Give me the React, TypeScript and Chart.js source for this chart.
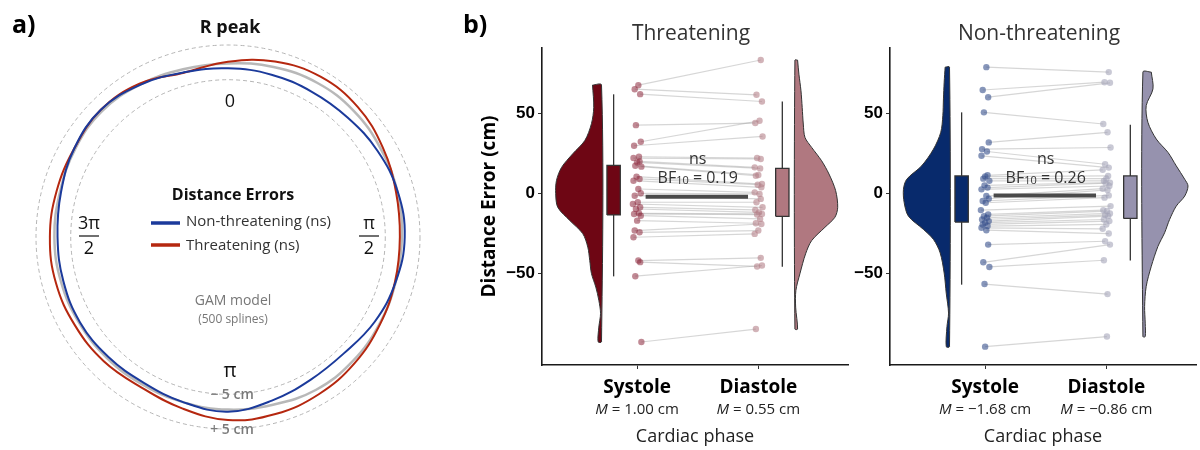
import React, { useEffect, useRef } from "react";
import { Chart, registerables } from "chart.js";

Chart.register(...registerables);

const FONT = "'Open Sans', 'Noto Sans', sans-serif";

// ---------------- Panel a: circular GAM fits (deviation in cm by cardiac phase angle) ----------------
const phaseAngles = [0, 15, 30, 45, 60, 75, 90, 105, 120, 135, 150, 165, 180, 195, 210, 225, 240, 255, 270, 285, 300, 315, 330, 345];
const nonThreatDev = [-1.7, -1.9, -2.0, -1.6, -0.6, 0.3, 0.6, -0.3, -1.5, -3.0, -2.8, -1.5, 0.0, -1.0, -1.8, -1.5, -1.1, -1.2, -1.2, -0.5, 0.8, 1.5, 0.3, -1.2];
const threatDev = [0.2, 2.0, 3.0, 2.6, 1.2, -0.2, -0.8, -0.5, 0.2, 1.2, 2.0, 2.5, 2.4, 0.8, -0.3, 0.3, 0.6, 1.0, 1.0, 0.8, 0.8, 1.5, 0.7, -1.3];
const gamDev = [-0.3, 0.4, 1.0, 1.0, 0.5, 0.2, -0.2, -0.3, 0.0, 0.4, 0.5, -0.3, -0.6, -1.0, -1.2, -1.0, -0.8, -0.5, -0.3, -0.2, 0.5, 1.0, 0.4, -0.3];
const ringTicks = [-5, 5];

// ---------------- Panel b: raincloud plots ----------------
const phases = ["Systole", "Diastole"];
const phaseTicks = [1, 2];
const yTicks = [-50, 0, 50];

const threatSys = [67.7, 65.2, 62.1, 42.7, 32.3, 29.8, 22.9, 22.1, 20, 19.4, 17.3, 16.7, 10.4, 9, 7.9, 2.7, 0, -1.5, -5.6, -6.7, -8.75, -9.8, -12.5, -12.9, -14, -17.1, -23.3, -24.4, -27.5, -42.1, -43.1, -51.9, -93.1];
const threatDia = [83.5, 61.7, 57.5, 44, 45.4, 35.6, 22.1, 21.5, 16.25, 15.6, 11.5, 11, 5.8, 5.4, 3.75, 0.6, -0.4, -3.5, -5.6, -8.75, -10.4, -11.9, -12.9, -13.3, -16, -18.75, -19.2, -23.3, -25.4, -40.4, -45.8, -45.2, -85];
const ntSys = [79, 64.7, 60.2, 50.7, 31.9, 27.7, 26.2, 23.5, 11.3, 10.5, 9.2, 7.8, 5, 3.6, 2.5, -1.7, -3.4, -4.8, -5.9, -10.5, -13.2, -14.3, -15.3, -16.4, -17.4, -18.4, -19.5, -20.5, -21.6, -23.1, -32.1, -43.2, -46.1, -56.8, -96];
const ntDia = [75.9, 69.6, 69.2, 43.4, 38.2, 28.7, 18.2, 16.1, 14.7, 10.9, 9.2, 7.8, 6.7, 6.3, 4.6, 2.9, 2.1, -1.3, -2.7, -8, -10.5, -11.1, -12.6, -13.6, -14.3, -16.4, -17.4, -19.5, -22.2, -25.2, -30, -32.1, -41.9, -63.1, -89.7];

const jitterSys = [0.01, -0.02, 0.025, -0.01, 0.03, -0.025, 0.015, -0.03, 0.02, 0.0, -0.015, 0.035, -0.005, 0.02, -0.03, 0.01, 0.03, -0.02, 0.005, -0.035, 0.025, -0.01, 0.015, -0.025, 0.03, 0.0, -0.02, 0.02, -0.03, 0.01, 0.025, -0.015, 0.035, -0.005, 0.0];
const jitterDia = [0.02, -0.015, 0.03, -0.025, 0.01, 0.035, -0.01, 0.02, -0.03, 0.015, 0.0, -0.02, 0.03, -0.005, 0.025, -0.03, 0.01, 0.02, -0.015, 0.035, -0.025, 0.005, 0.03, -0.01, 0.015, -0.02, 0.025, 0.0, -0.03, 0.02, -0.01, 0.03, -0.02, 0.01, 0.005];

// violin outlines: y levels and half-widths (x units)
const threatSysVY = [67.8, 53.8, 43.6, 33, 24.8, 16.2, 7.9, -0.2, -8.75, -17, -25.2, -33.7, -42, -50.2, -58.7, -67, -75.2, -83.75, -93];
const threatSysVW = [0.074, 0.064, 0.083, 0.138, 0.237, 0.33, 0.372, 0.378, 0.361, 0.262, 0.155, 0.113, 0.097, 0.083, 0.047, 0.022, 0.008, 0.022, 0.028];
const threatDiaVY = [83.4, 74.6, 64.2, 53.75, 43.4, 35, 28.75, 20.4, 12.1, 1.7, -8.75, -15, -21.25, -29.6, -37.9, -50.4, -60.8, -71.25, -85];
const threatDiaVW = [0.022, 0.033, 0.05, 0.06, 0.069, 0.083, 0.138, 0.22, 0.281, 0.336, 0.353, 0.33, 0.248, 0.138, 0.088, 0.041, 0.008, 0.006, 0.022];
const ntSysVY = [79, 69.6, 59.1, 48.6, 38.2, 27.7, 17.2, 8.8, 2.5, -5.8, -14.3, -22.6, -28.9, -37.3, -49.9, -62.5, -75, -83.5, -96];
const ntSysVW = [0.036, 0.044, 0.05, 0.055, 0.072, 0.132, 0.23, 0.353, 0.38, 0.374, 0.339, 0.215, 0.132, 0.077, 0.044, 0.027, 0.008, 0.021, 0.027];
const ntDiaVY = [75.9, 65.4, 54.9, 44.5, 34, 25.6, 17.2, 8.8, 4.6, -1.7, -8, -16.4, -24.7, -33.2, -45.7, -58.3, -70.9, -81.3, -89.7];
const ntDiaVW = [0.069, 0.083, 0.027, 0.041, 0.11, 0.207, 0.275, 0.345, 0.372, 0.345, 0.275, 0.22, 0.179, 0.124, 0.069, 0.027, 0.014, 0.019, 0.019];

// box stats: [lower whisker, Q1, median, Q3, upper whisker]
const threatSysBox = [-52, -13.5, 2.3, 17.5, 62];
const threatDiaBox = [-46, -14.4, -1, 15.6, 57.5];
const ntSysBox = [-57.2, -18, -2.7, 10.9, 50.7];
const ntDiaBox = [-42.1, -15.7, 0, 10.9, 43];

const threatMeanLine = [-2.1, -2.1];
const ntMeanLine = [-1.3, -1.3];
const threatMeans = ["1.00", "0.55"];
const ntMeans = ["\u22121.68", "\u22120.86"];
const threatBF = "0.19";
const ntBF = "0.26";

// ---------------- helpers ----------------
function txt(ctx: CanvasRenderingContext2D, s: string, x: number, y: number, font: string, color = "#111", align: CanvasTextAlign = "center") {
  ctx.font = font;
  ctx.fillStyle = color;
  ctx.textAlign = align;
  ctx.textBaseline = "middle";
  ctx.fillText(s, x, y);
}

function fraction(ctx: CanvasRenderingContext2D, top: string, x: number, y: number) {
  txt(ctx, top, x, y - 12, `18px ${FONT}`, "#111");
  ctx.strokeStyle = "#111";
  ctx.lineWidth = 1.2;
  ctx.beginPath();
  ctx.moveTo(x - 10, y);
  ctx.lineTo(x + 10, y);
  ctx.stroke();
  txt(ctx, "2", x, y + 13, `18px ${FONT}`, "#111");
}

function violin(edge: number, dir: number, ys: number[], ws: number[], fill: string) {
  const pts = ys.map((y, i) => ({ x: edge + dir * ws[i], y }));
  const last = ys.length - 1;
  return {
    data: [...pts, { x: edge, y: ys[last] }, { x: edge, y: ys[0] }, pts[0]],
    showLine: true,
    fill: "shape",
    backgroundColor: fill,
    borderColor: "#333",
    borderWidth: 1,
    pointRadius: 0,
    tension: 0.3,
    order: 5,
  };
}

function box(center: number, half: number, stats: number[], fill: string) {
  const [lo, q1, med, q3, hi] = stats;
  const common = { showLine: true, pointRadius: 0, tension: 0, borderColor: "#333", order: 4 };
  return [
    {
      ...common,
      data: [
        { x: center - half, y: q1 },
        { x: center + half, y: q1 },
        { x: center + half, y: q3 },
        { x: center - half, y: q3 },
        { x: center - half, y: q1 },
      ],
      fill: "shape",
      backgroundColor: fill,
      borderWidth: 1.3,
    },
    { ...common, data: [{ x: center - half, y: med }, { x: center + half, y: med }], borderWidth: 2.2, borderColor: "#3a3a3a", fill: false },
    { ...common, data: [{ x: center, y: q3 }, { x: center, y: hi }], borderWidth: 1.3, fill: false },
    { ...common, data: [{ x: center, y: lo }, { x: center, y: q1 }], borderWidth: 1.3, fill: false },
  ];
}

// ---------------- Panel a component ----------------
function CirclePanel() {
  const ref = useRef<HTMLCanvasElement>(null);
  useEffect(() => {
    const annot = {
      id: "circleText",
      afterDraw(chart: any) {
        const ctx = chart.ctx as CanvasRenderingContext2D;
        const s = chart.scales.r;
        const cx = s.xCenter;
        const cy = s.yCenter;
        ctx.save();
        txt(ctx, "a)", 12, 26, `bold 25px ${FONT}`, "#000", "left");
        txt(ctx, "R peak", cx + 2, 28, `bold 18px ${FONT}`, "#111");
        txt(ctx, "0", cx + 2, cy - 135, `18px ${FONT}`, "#111");
        txt(ctx, "\u03c0", cx + 2, cy + 134, `20px ${FONT}`, "#111");
        fraction(ctx, "\u03c0", cx + 141, cy - 1);
        fraction(ctx, "3\u03c0", cx - 139, cy - 1);
        const rIn = s.getDistanceFromCenterForValue(ringTicks[0]);
        const rOut = s.getDistanceFromCenterForValue(ringTicks[1]);
        txt(ctx, "\u2212 5 cm", cx + 4, cy + rIn + 1, `600 14px ${FONT}`, "#7a7a7a");
        txt(ctx, "+ 5 cm", cx + 4, cy + rOut + 1, `600 14px ${FONT}`, "#7a7a7a");
        txt(ctx, "Distance Errors", cx + 5, cy - 42, `bold 16px ${FONT}`, "#111");
        ctx.lineWidth = 3.5;
        ctx.strokeStyle = "#1B3A9B";
        ctx.beginPath();
        ctx.moveTo(cx - 77, cy - 14);
        ctx.lineTo(cx - 48, cy - 14);
        ctx.stroke();
        ctx.strokeStyle = "#B5270F";
        ctx.beginPath();
        ctx.moveTo(cx - 77, cy + 8);
        ctx.lineTo(cx - 48, cy + 8);
        ctx.stroke();
        txt(ctx, "Non-threatening (ns)", cx - 42, cy - 15, `15px ${FONT}`, "#333", "left");
        txt(ctx, "Threatening (ns)", cx - 42, cy + 9, `15px ${FONT}`, "#333", "left");
        txt(ctx, "GAM model", cx + 5, cy + 64, `14px ${FONT}`, "#777");
        txt(ctx, "(500 splines)", cx + 5, cy + 83, `12px ${FONT}`, "#777");
        ctx.restore();
      },
    };
    const chart = new Chart(ref.current as HTMLCanvasElement, {
      type: "radar",
      data: {
        labels: phaseAngles.map((a) => `${a}\u00b0`),
        datasets: [
          { label: "Non-threatening", data: nonThreatDev, borderColor: "#1B3A9B", borderWidth: 2, pointRadius: 0, fill: false, tension: 0.4, order: 0 },
          { label: "Threatening", data: threatDev, borderColor: "#B5270F", borderWidth: 2, pointRadius: 0, fill: false, tension: 0.4, order: 1 },
          { label: "GAM", data: gamDev, borderColor: "rgba(160,160,160,0.75)", borderWidth: 2.5, pointRadius: 0, fill: false, tension: 0.4, order: 2 },
        ],
      } as any,
      options: {
        animation: false,
        responsive: true,
        maintainAspectRatio: false,
        events: [],
        layout: { padding: { left: 36, right: 40, top: 45, bottom: 21 } },
        plugins: { legend: { display: false }, tooltip: { enabled: false } },
        scales: {
          r: {
            min: -50.3,
            max: 5,
            afterBuildTicks: (scale: any) => {
              scale.ticks = ringTicks.map((v) => ({ value: v }));
            },
            ticks: { display: false },
            pointLabels: { display: false },
            angleLines: { display: false },
            grid: { circular: true, color: "#b5b5b5", lineWidth: 1 },
            border: { dash: [4, 3] },
          } as any,
        },
      },
      plugins: [annot],
    });
    return () => chart.destroy();
  }, []);
  return (
    <div style={{ position: "absolute", left: 0, top: 0, width: 460, height: 450 }}>
      <canvas ref={ref} />
    </div>
  );
}

// ---------------- Panel b component ----------------
type RainProps = {
  left: number;
  width: number;
  axisWidth: number;
  title: string;
  showYTitle: boolean;
  showLetter: boolean;
  sys: number[];
  dia: number[];
  sysVY: number[];
  sysVW: number[];
  diaVY: number[];
  diaVW: number[];
  sysBox: number[];
  diaBox: number[];
  meanLine: number[];
  means: string[];
  bf: string;
  sysFill: string;
  diaFill: string;
  sysPt: string;
  diaPt: string;
};

function RainPanel(p: RainProps) {
  const ref = useRef<HTMLCanvasElement>(null);
  useEffect(() => {
    const pairs = p.sys.map((y, i) => ({
      data: [
        { x: phaseTicks[0] + jitterSys[i], y },
        { x: phaseTicks[1] + jitterDia[i], y: p.dia[i] },
      ],
      showLine: true,
      borderColor: "rgba(165,165,165,0.45)",
      borderWidth: 1.2,
      pointRadius: 0,
      fill: false,
      order: 10,
    }));
    const datasets: any[] = [
      ...pairs,
      violin(0.706, -1, p.sysVY, p.sysVW, p.sysFill),
      violin(2.302, 1, p.diaVY, p.diaVW, p.diaFill),
      ...box(0.806, 0.055, p.sysBox, p.sysFill),
      ...box(2.198, 0.055, p.diaBox, p.diaFill),
      {
        data: p.sys.map((y, i) => ({ x: phaseTicks[0] + jitterSys[i], y })),
        pointRadius: 3.2,
        pointBackgroundColor: p.sysPt,
        pointBorderWidth: 0,
        showLine: false,
        order: 2,
      },
      {
        data: p.dia.map((y, i) => ({ x: phaseTicks[1] + jitterDia[i], y })),
        pointRadius: 3.2,
        pointBackgroundColor: p.diaPt,
        pointBorderWidth: 0,
        showLine: false,
        order: 2,
      },
      {
        data: [
          { x: 1.07, y: p.meanLine[0] },
          { x: 1.915, y: p.meanLine[1] },
        ],
        showLine: true,
        borderColor: "#4a4a4a",
        borderWidth: 4,
        pointRadius: 0,
        fill: false,
        order: 0,
      },
    ];
    const annot = {
      id: "rainText",
      afterDraw(chart: any) {
        const ctx = chart.ctx as CanvasRenderingContext2D;
        const ca = chart.chartArea;
        const xs = chart.scales.x;
        const ys = chart.scales.y;
        ctx.save();
        if (p.showLetter) txt(ctx, "b)", 3, 26, `bold 25px ${FONT}`, "#000", "left");
        txt(ctx, p.title, (ca.left + ca.right) / 2 - 4, 34, `21px ${FONT}`, "#333");
        phaseTicks.forEach((v, i) => {
          const cx = xs.getPixelForValue(v);
          const y = ca.bottom + 45;
          const f1 = `italic 15px ${FONT}`;
          const f2 = `15px ${FONT}`;
          const rest = ` = ${p.means[i]} cm`;
          ctx.font = f1;
          const w1 = ctx.measureText("M").width;
          ctx.font = f2;
          const w2 = ctx.measureText(rest).width;
          const x0 = cx - (w1 + w2) / 2;
          txt(ctx, "M", x0, y, f1, "#222", "left");
          txt(ctx, rest, x0 + w1, y, f2, "#222", "left");
        });
        const mx = xs.getPixelForValue(1.5);
        txt(ctx, "ns", mx, ys.getPixelForValue(21.5), `16px ${FONT}`, "#333");
        const by = ys.getPixelForValue(9.5);
        const fB = `16px ${FONT}`;
        const fS = `11px ${FONT}`;
        const after = ` = ${p.bf}`;
        ctx.font = fB;
        const wa = ctx.measureText("BF").width;
        const wc = ctx.measureText(after).width;
        ctx.font = fS;
        const wb = ctx.measureText("10").width;
        const bx = mx - (wa + wb + wc) / 2;
        txt(ctx, "BF", bx, by, fB, "#333", "left");
        txt(ctx, "10", bx + wa, by + 3, fS, "#333", "left");
        txt(ctx, after, bx + wa + wb, by, fB, "#333", "left");
        ctx.restore();
      },
    };
    const chart = new Chart(ref.current as HTMLCanvasElement, {
      type: "scatter",
      data: { datasets },
      options: {
        animation: false,
        responsive: true,
        maintainAspectRatio: false,
        events: [],
        layout: { padding: { left: 0, right: 4, top: 48, bottom: 0 } },
        plugins: { legend: { display: false }, tooltip: { enabled: false } },
        scales: {
          x: {
            type: "linear",
            min: 0.215,
            max: 2.74,
            afterBuildTicks: (scale: any) => {
              scale.ticks = phaseTicks.map((v) => ({ value: v }));
            },
            afterFit: (scale: any) => {
              scale.height = 85;
            },
            ticks: {
              callback: (v: any) => phases[Math.round(Number(v)) - 1],
              font: { family: FONT, size: 19, weight: "bold" },
              color: "#000",
              padding: 7,
              maxRotation: 0,
            },
            grid: { display: true, drawOnChartArea: false, drawTicks: true, tickLength: 4, color: "#333" },
            border: { display: true, color: "#1a1a1a", width: 1.6 },
            title: {
              display: true,
              text: "Cardiac phase",
              font: { family: FONT, size: 18 },
              color: "#222",
              padding: { top: 0, bottom: 2 },
            },
          },
          y: {
            type: "linear",
            min: -107.5,
            max: 91,
            afterBuildTicks: (scale: any) => {
              scale.ticks = yTicks.map((v) => ({ value: v }));
            },
            afterFit: (scale: any) => {
              scale.width = p.axisWidth;
            },
            ticks: {
              callback: (v: any) => (Number(v) < 0 ? `\u2212${Math.abs(Number(v))}` : String(v)),
              font: { family: "'Liberation Sans', Arial, sans-serif", size: 17, weight: "bold" },
              color: "#000",
              padding: 3,
            },
            grid: { display: true, drawOnChartArea: false, drawTicks: true, tickLength: 4, color: "#333" },
            border: { display: true, color: "#1a1a1a", width: 1.6 },
            title: {
              display: p.showYTitle,
              text: "Distance Error (cm)",
              font: { family: FONT, size: 19, weight: "bold" },
              color: "#000",
              padding: { top: 18, bottom: 0 },
            },
          },
        },
      } as any,
      plugins: [annot],
    });
    return () => chart.destroy();
  }, []);
  return (
    <div style={{ position: "absolute", left: p.left, top: 0, width: p.width, height: 450 }}>
      <canvas ref={ref} />
    </div>
  );
}

export default function App() {
  return (
    <div style={{ position: "fixed", left: 0, top: 0, width: 1200, height: 450, background: "#fff", overflow: "hidden" }}>
      <CirclePanel />
      <RainPanel
        left={460}
        width={392}
        axisWidth={82}
        title="Threatening"
        showYTitle={true}
        showLetter={true}
        sys={threatSys}
        dia={threatDia}
        sysVY={threatSysVY}
        sysVW={threatSysVW}
        diaVY={threatDiaVY}
        diaVW={threatDiaVW}
        sysBox={threatSysBox}
        diaBox={threatDiaBox}
        meanLine={threatMeanLine}
        means={threatMeans}
        bf={threatBF}
        sysFill="#6E0614"
        diaFill="#B07880"
        sysPt="rgba(140,40,60,0.55)"
        diaPt="rgba(180,128,136,0.6)"
      />
      <RainPanel
        left={852}
        width={348}
        axisWidth={38}
        title="Non-threatening"
        showYTitle={false}
        showLetter={false}
        sys={ntSys}
        dia={ntDia}
        sysVY={ntSysVY}
        sysVW={ntSysVW}
        diaVY={ntDiaVY}
        diaVW={ntDiaVW}
        sysBox={ntSysBox}
        diaBox={ntDiaBox}
        meanLine={ntMeanLine}
        means={ntMeans}
        bf={ntBF}
        sysFill="#082A6C"
        diaFill="#9692AE"
        sysPt="rgba(55,80,140,0.6)"
        diaPt="rgba(165,165,185,0.6)"
      />
    </div>
  );
}
